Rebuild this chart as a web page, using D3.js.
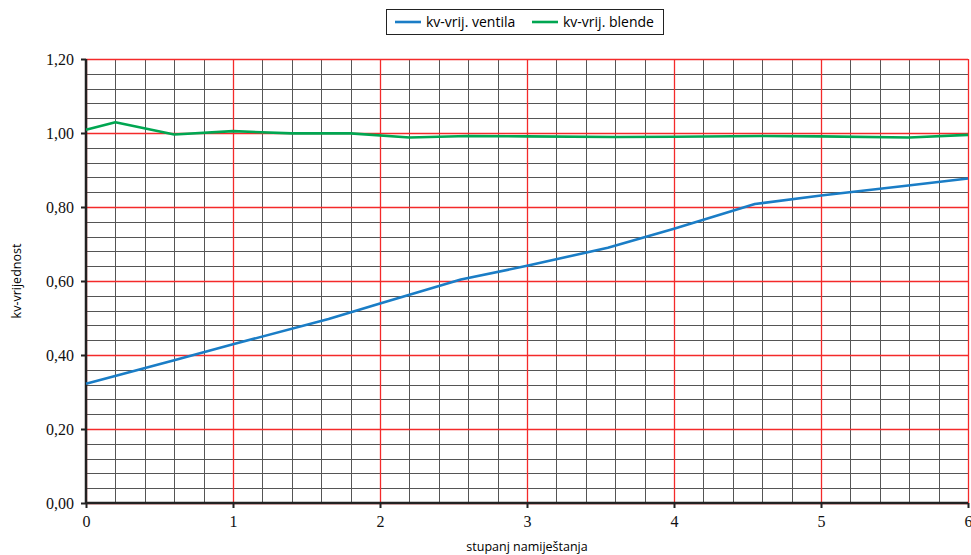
<!DOCTYPE html>
<html>
<head>
<meta charset="utf-8">
<script src="https://cdn.jsdelivr.net/npm/d3@7"></script>
<style>
  body { margin: 0; background: #fff; }
  svg g.axis text { font-family: "Liberation Serif", "Times New Roman", serif !important; font-size: 16px !important; }
</style>
</head>
<body>
<script>
// stupanj namjestanja (x) and kv values
var ventilX = [0, 0.6, 1.0, 1.65, 2.0, 2.55, 3.0, 3.55, 4.0, 4.55, 5.0, 5.55, 6.0];
var ventilY = [0.322, 0.386, 0.429, 0.497, 0.539, 0.604, 0.641, 0.690, 0.741, 0.808, 0.831, 0.856, 0.877];

var blendeX = [0, 0.2, 0.6, 1.0, 1.4, 1.8, 2.2, 2.6, 3.0, 3.6, 4.0, 4.6, 5.0, 5.6, 6.0];
var blendeY = [1.009, 1.029, 0.996, 1.005, 0.999, 0.999, 0.988, 0.992, 0.991, 0.989, 0.990, 0.992, 0.991, 0.988, 0.995];

var seriesNames = ["kv-vrij. ventila", "kv-vrij. blende"];
var xTicks = [0, 1, 2, 3, 4, 5, 6];
var yTicks = [0, 0.2, 0.4, 0.6, 0.8, 1.0, 1.2];

var width = 971,
    height = 555,
    margin = {left: 86, right: 3, top: 59, bottom: 52};

var colors = ["#1a7dc6", "#00a651"];

var x = d3.scaleLinear().domain([0, 6]).range([margin.left, width - margin.right]);
var y = d3.scaleLinear().domain([0, 1.2]).range([height - margin.bottom, margin.top]);

var svg = d3.select("body").append("svg")
    .attr("width", width)
    .attr("height", height);

var fmt = function(d) { return d3.format(".2f")(d).replace(".", ","); };
var px = function(v) { return Math.round(v) + 0.5; };

// minor grid, skipping the major positions
var grid = svg.append("g");
var vMinor = d3.range(0, 31).filter(function(i) { return i % 5 !== 0; }).map(function(i) { return i / 5; });
var hMinor = d3.range(0, 31).filter(function(i) { return i % 5 !== 0; }).map(function(i) { return i / 25; });

grid.selectAll(".vmin")
    .data(vMinor)
  .enter().append("line")
    .attr("x1", function(d) { return px(x(d)); })
    .attr("x2", function(d) { return px(x(d)); })
    .attr("y1", y(0)).attr("y2", y(1.2))
    .attr("stroke", "#555").attr("stroke-width", 1);
grid.selectAll(".hmin")
    .data(hMinor)
  .enter().append("line")
    .attr("x1", x(0)).attr("x2", x(6))
    .attr("y1", function(d) { return px(y(d)); })
    .attr("y2", function(d) { return px(y(d)); })
    .attr("stroke", "#555").attr("stroke-width", 1);

// major grid (red)
grid.selectAll(".vmaj")
    .data(xTicks)
  .enter().append("line")
    .attr("x1", function(d) { return px(x(d)); })
    .attr("x2", function(d) { return px(x(d)); })
    .attr("y1", y(0)).attr("y2", y(1.2))
    .attr("stroke", "#f42a2a").attr("stroke-width", 1.3);
grid.selectAll(".hmaj")
    .data(yTicks)
  .enter().append("line")
    .attr("x1", x(0)).attr("x2", x(6))
    .attr("y1", function(d) { return px(y(d)); })
    .attr("y2", function(d) { return px(y(d)); })
    .attr("stroke", "#f42a2a").attr("stroke-width", 1.3);

// axes
var yAxis = svg.append("g")
    .attr("class", "axis")
    .attr("transform", "translate(" + margin.left + ",0)")
    .call(d3.axisLeft(y).tickValues(yTicks).tickFormat(fmt).tickSize(5).tickPadding(7));
var xAxis = svg.append("g")
    .attr("class", "axis")
    .attr("transform", "translate(0," + y(0) + ")")
    .call(d3.axisBottom(x).tickValues(xTicks).tickFormat(d3.format("d")).tickSize(5).tickPadding(8));
[yAxis, xAxis].forEach(function(a) {
  a.attr("font-family", "Liberation Serif").attr("font-size", 16);
  a.selectAll("text")
      .attr("font-family", "Liberation Serif")
      .attr("font-size", 16)
      .attr("fill", "#111");
  a.select(".domain").attr("stroke", "#222").attr("stroke-width", 2.5);
  a.selectAll(".tick line").attr("stroke", "#222").attr("stroke-width", 2);
});
xAxis.select(".domain").attr("d", "M" + x(0) + ",0H" + x(6));
yAxis.select(".domain").attr("d", "M0," + y(0) + "V" + y(1.2));

// lines
var line = d3.line()
    .x(function(d) { return x(d[0]); })
    .y(function(d) { return y(d[1]); });

var data = [d3.zip(ventilX, ventilY), d3.zip(blendeX, blendeY)];

svg.selectAll(".series")
    .data(data)
  .enter().append("path")
    .attr("d", line)
    .attr("fill", "none")
    .attr("stroke", function(d, i) { return colors[i]; })
    .attr("stroke-width", 2.6)
    .attr("stroke-linejoin", "round");

// axis titles
svg.append("text")
    .attr("x", x(3)).attr("y", 551)
    .attr("text-anchor", "middle")
    .style("font-family", "'Open Sans', sans-serif")
    .style("font-size", "12.5px")
    .text("stupanj namiještanja");
svg.append("text")
    .attr("transform", "translate(21," + y(0.6) + ") rotate(-90)")
    .attr("text-anchor", "middle")
    .style("font-family", "'Open Sans', sans-serif")
    .style("font-size", "12.5px")
    .text("kv-vrijednost");

// legend
var legend = svg.append("g");
legend.append("rect")
    .attr("x", 386.5).attr("y", 9.5)
    .attr("width", 277).attr("height", 25)
    .attr("fill", "#fff").attr("stroke", "#222").attr("stroke-width", 1);
var lx = [395, 532];
seriesNames.forEach(function(name, i) {
  legend.append("line")
      .attr("x1", lx[i]).attr("x2", lx[i] + 26)
      .attr("y1", 22).attr("y2", 22)
      .attr("stroke", colors[i]).attr("stroke-width", 2.6);
  legend.append("text")
      .attr("x", lx[i] + 31).attr("y", 27)
      .style("font-family", "'Open Sans', sans-serif")
      .style("font-size", "14px")
      .text(name);
});
</script>
</body>
</html>
